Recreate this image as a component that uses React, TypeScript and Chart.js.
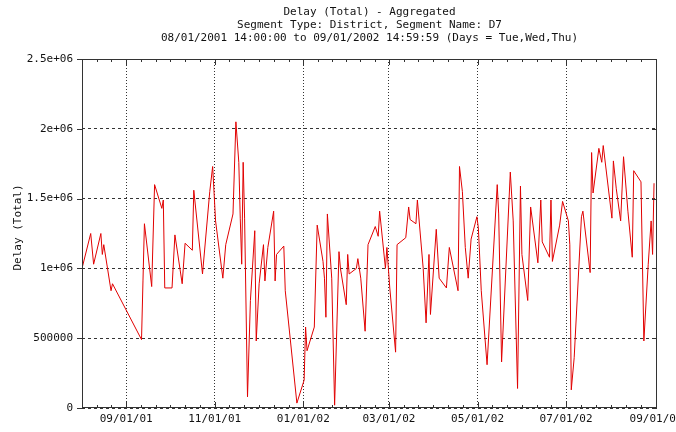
import React, { useEffect, useRef } from "react";
import { Chart, registerables } from "chart.js";
Chart.register(...registerables);

const TITLE_LINES = [
  "Delay (Total) - Aggregated",
  "Segment Type: District, Segment Name: D7",
  "08/01/2001 14:00:00 to 09/01/2002 14:59:59 (Days = Tue,Wed,Thu)",
];
const Y_TITLE = "Delay (Total)";

const X_MIN = "2001-08-01T14:00:00Z";
const X_MAX = "2002-09-01T14:59:59Z";

const X_TICK_DATES = ["2001-09-01", "2001-11-01", "2002-01-01", "2002-03-01", "2002-05-01", "2002-07-01", "2002-09-01"];
const X_TICK_LABELS = ["09/01/01", "11/01/01", "01/01/02", "03/01/02", "05/01/02", "07/01/02", "09/01/02"];
const Y_TICKS = [0, 500000, 1000000, 1500000, 2000000, 2500000];
const Y_TICK_LABELS = ["0", "500000", "1e+06", "1.5e+06", "2e+06", "2.5e+06"];

const DATES = [
  "2001-08-01", "2001-08-07", "2001-08-09", "2001-08-14", "2001-08-15", "2001-08-16", "2001-08-21", "2001-08-22",
  "2001-09-11", "2001-09-12", "2001-09-13", "2001-09-18", "2001-09-20", "2001-09-25", "2001-09-26", "2001-09-27",
  "2001-10-02", "2001-10-04", "2001-10-09", "2001-10-11", "2001-10-16", "2001-10-17", "2001-10-23", "2001-10-28", "2001-10-30",
  "2001-11-01", "2001-11-06", "2001-11-08", "2001-11-13", "2001-11-15", "2001-11-17", "2001-11-18", "2001-11-19", "2001-11-20",
  "2001-11-21", "2001-11-23", "2001-11-25", "2001-11-28", "2001-11-29",
  "2001-12-01", "2001-12-04", "2001-12-05", "2001-12-07", "2001-12-11", "2001-12-12", "2001-12-13", "2001-12-18", "2001-12-19", "2001-12-27",
  "2002-01-01", "2002-01-02", "2002-01-03", "2002-01-08", "2002-01-10", "2002-01-14", "2002-01-15", "2002-01-16", "2002-01-17",
  "2002-01-20", "2002-01-22", "2002-01-25", "2002-01-26", "2002-01-30", "2002-01-31",
  "2002-02-01", "2002-02-06", "2002-02-07", "2002-02-09", "2002-02-12", "2002-02-14", "2002-02-19", "2002-02-21", "2002-02-22",
  "2002-02-26", "2002-02-27",
  "2002-03-01", "2002-03-05", "2002-03-06", "2002-03-12", "2002-03-14", "2002-03-15", "2002-03-19", "2002-03-20", "2002-03-24",
  "2002-03-26", "2002-03-28", "2002-03-29",
  "2002-04-02", "2002-04-04", "2002-04-09", "2002-04-11", "2002-04-17", "2002-04-18", "2002-04-20", "2002-04-22", "2002-04-24",
  "2002-04-26", "2002-04-30",
  "2002-05-01", "2002-05-03", "2002-05-07", "2002-05-14", "2002-05-15", "2002-05-17", "2002-05-23", "2002-05-25", "2002-05-28",
  "2002-05-30", "2002-05-31",
  "2002-06-04", "2002-06-06", "2002-06-11", "2002-06-13", "2002-06-14", "2002-06-19", "2002-06-20", "2002-06-21", "2002-06-26", "2002-06-28",
  "2002-07-02", "2002-07-03", "2002-07-04", "2002-07-06", "2002-07-11", "2002-07-12", "2002-07-17", "2002-07-18", "2002-07-19",
  "2002-07-23", "2002-07-25", "2002-07-26",
  "2002-08-01", "2002-08-02", "2002-08-04", "2002-08-07", "2002-08-09", "2002-08-12", "2002-08-15", "2002-08-16", "2002-08-21",
  "2002-08-23", "2002-08-26", "2002-08-28", "2002-08-29", "2002-08-30",
];

const VALUES = [
  1000000, 1250000, 1030000, 1250000, 1100000, 1170000, 840000, 890000,
  490000, 910000, 1320000, 870000, 1600000, 1430000, 1490000, 860000,
  860000, 1240000, 890000, 1180000, 1130000, 1560000, 960000, 1550000, 1730000,
  1340000, 930000, 1170000, 1390000, 2050000, 1760000, 1360000, 1030000, 1760000,
  1360000, 80000, 770000, 1270000, 480000,
  890000, 1170000, 910000, 1150000, 1410000, 910000, 1100000, 1160000, 840000, 35000,
  200000, 580000, 410000, 580000, 1310000, 1050000, 930000, 650000, 1390000,
  930000, 20000, 1120000, 1000000, 740000, 1100000,
  960000, 1000000, 1070000, 930000, 550000, 1170000, 1300000, 1230000, 1410000,
  1000000, 1150000,
  860000, 400000, 1170000, 1220000, 1440000, 1350000, 1320000, 1490000, 1000000,
  610000, 1100000, 670000,
  1280000, 930000, 860000, 1150000, 840000, 1730000, 1550000, 1150000, 930000,
  1210000, 1370000,
  1290000, 840000, 310000, 1600000, 1390000, 330000, 1690000, 1340000, 140000,
  1590000, 1100000,
  770000, 1440000, 1040000, 1490000, 1190000, 1080000, 1490000, 1050000, 1310000, 1480000,
  1340000, 1170000, 130000, 360000, 1370000, 1410000, 970000, 1830000, 1540000,
  1860000, 1760000, 1880000,
  1360000, 1770000, 1570000, 1340000, 1800000, 1410000, 1080000, 1700000, 1620000,
  480000, 1030000, 1340000, 1100000, 1610000,
];

const FONT = "'DejaVu Sans Mono', 'Liberation Mono', monospace";
const toMs = (d: string) => Date.parse(d.length === 10 ? d + "T14:00:00Z" : d);

export default function App() {
  const ref = useRef<HTMLCanvasElement | null>(null);

  useEffect(() => {
    const canvas = ref.current;
    if (!canvas) return;
    const xMin = toMs(X_MIN);
    const xMax = toMs(X_MAX);
    const xTicks = X_TICK_DATES.map((d) => Date.parse(d + "T00:00:00Z"));
    const points = DATES.map((d, i) => ({ x: toMs(d), y: VALUES[i] }));

    const frame = {
      id: "frame",
      afterDraw(chart: any) {
        const { ctx, chartArea } = chart;
        const { left, right, top, bottom } = chartArea;
        const xs = chart.scales.x;
        const ys = chart.scales.y;
        ctx.save();
        ctx.strokeStyle = "#333";
        ctx.lineWidth = 1;
        ctx.setLineDash([]);
        ctx.strokeRect(left + 0.5, top + 0.5, right - left - 1, bottom - top - 1);
        ctx.beginPath();
        Y_TICKS.forEach((v) => {
          const y = Math.round(ys.getPixelForValue(v)) + 0.5;
          ctx.moveTo(left - 5, y);
          ctx.lineTo(left, y);
          ctx.moveTo(right - 5, y);
          ctx.lineTo(right, y);
        });
        const majors = xTicks.map((t) => xs.getPixelForValue(t));
        majors.forEach((px) => {
          const x = Math.round(px) + 0.5;
          ctx.moveTo(x, bottom);
          ctx.lineTo(x, bottom - 6);
          ctx.moveTo(x, top);
          ctx.lineTo(x, top + 6);
        });
        const minors: number[] = [];
        for (let i = 0; i < majors.length - 1; i++) {
          const step = (majors[i + 1] - majors[i]) / 6;
          for (let k = 1; k < 6; k++) minors.push(majors[i] + k * step);
        }
        const firstStep = (majors[1] - majors[0]) / 6;
        for (let p = majors[0] - firstStep; p > left + 1; p -= firstStep) minors.push(p);
        minors.forEach((px) => {
          const x = Math.round(px) + 0.5;
          ctx.moveTo(x, bottom);
          ctx.lineTo(x, bottom - 3);
          ctx.moveTo(x, top);
          ctx.lineTo(x, top + 3);
        });
        ctx.stroke();
        ctx.fillStyle = "#111";
        ctx.font = "11px " + FONT;
        ctx.textAlign = "center";
        ctx.textBaseline = "middle";
        const cx = (left + right) / 2;
        TITLE_LINES.forEach((t, i) => ctx.fillText(t, cx, 12 + i * 13));
        ctx.translate(18, (top + bottom) / 2 - 6);
        ctx.rotate(-Math.PI / 2);
        ctx.fillText(Y_TITLE, 0, 0);
        ctx.restore();
      },
    };

    const chart = new Chart(canvas, {
      type: "line",
      data: {
        datasets: [
          {
            data: points,
            borderColor: "rgb(225,0,0)",
            borderWidth: 1,
            pointRadius: 0,
            tension: 0,
            fill: false,
          },
        ],
      },
      options: {
        animation: false,
        responsive: false,
        parsing: false as any,
        normalized: true,
        layout: { padding: { top: 59, right: 19, left: 0, bottom: 0 } },
        plugins: { legend: { display: false }, tooltip: { enabled: false }, title: { display: false } },
        scales: {
          x: {
            type: "linear",
            min: xMin,
            max: xMax,
            afterBuildTicks: (s: any) => {
              s.ticks = xTicks.map((v) => ({ value: v }));
            },
            afterFit: (s: any) => {
              s.height = 24;
              s.paddingLeft = 0;
              s.paddingRight = 0;
            },
            ticks: {
              autoSkip: false,
              maxRotation: 0,
              padding: 5,
              color: "#111",
              font: { family: FONT, size: 11 },
              callback: (_v: any, i: number) => X_TICK_LABELS[i],
            },
            grid: { color: "#333", lineWidth: 1, drawTicks: false },
            border: { display: false, dash: [1, 2] },
          },
          y: {
            type: "linear",
            min: 0,
            max: 2500000,
            afterBuildTicks: (s: any) => {
              s.ticks = Y_TICKS.map((v) => ({ value: v }));
            },
            afterFit: (s: any) => {
              s.width = 82;
              s.paddingTop = 0;
              s.paddingBottom = 0;
            },
            ticks: {
              padding: 9,
              color: "#111",
              font: { family: FONT, size: 11 },
              callback: (_v: any, i: number) => Y_TICK_LABELS[i],
            },
            grid: { color: "#333", lineWidth: 1, drawTicks: false },
            border: { display: false, dash: [3, 3] },
          },
        },
      },
      plugins: [frame],
    } as any);
    return () => chart.destroy();
  }, []);

  return (
    <div style={{ position: "absolute", left: 0, top: 0, width: 676, height: 432, background: "#fff" }}>
      <canvas ref={ref} width={676} height={432} style={{ display: "block" }} />
    </div>
  );
}
